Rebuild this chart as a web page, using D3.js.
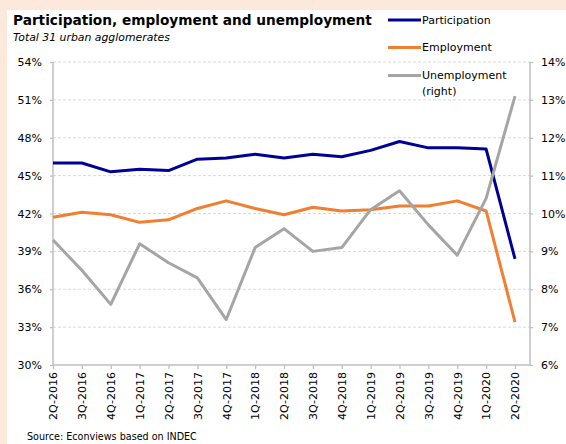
<!DOCTYPE html>
<html>
<head>
<meta charset="utf-8">
<script src="https://cdn.jsdelivr.net/npm/d3@7"></script>
<style>
  html, body { margin: 0; padding: 0; background: #fde9db; }
  svg { display: block; }
  text { font-family: "DejaVu Sans", Verdana, sans-serif; fill: #000; }
</style>
</head>
<body>
<svg id="chart" width="566" height="444"></svg>
<script>
// Quarters (Total 31 urban agglomerates)
const quarters = ["2Q-2016","3Q-2016","4Q-2016","1Q-2017","2Q-2017","3Q-2017","4Q-2017",
  "1Q-2018","2Q-2018","3Q-2018","4Q-2018","1Q-2019","2Q-2019","3Q-2019","4Q-2019",
  "1Q-2020","2Q-2020"];
// Rates in percent
const participation = [46.0,46.0,45.3,45.5,45.4,46.3,46.4,46.7,46.4,46.7,46.5,47.0,47.7,47.2,47.2,47.1,38.4];
const employment    = [41.7,42.1,41.9,41.3,41.5,42.4,43.0,42.4,41.9,42.5,42.2,42.3,42.6,42.6,43.0,42.2,33.4];
const unemployment  = [9.3,8.5,7.6,9.2,8.7,8.3,7.2,9.1,9.6,9.0,9.1,10.1,10.6,9.7,8.9,10.4,13.1];
// Axis ticks
const leftTicks  = [30,33,36,39,42,45,48,51,54];
const rightTicks = [6,7,8,9,10,11,12,13,14];

const svg = d3.select("#chart");

// White panel over the peach frame
svg.append("rect").attr("x", 7).attr("y", 10).attr("width", 559).attr("height", 434).attr("fill", "#fff");

const plotL = 53, plotR = 530, plotT = 62, plotB = 365;

const x = d3.scalePoint().domain(quarters).range([plotL, 515]);
const yL = d3.scaleLinear().domain([30, 54]).range([plotB, plotT]);
const yR = d3.scaleLinear().domain([6, 14]).range([plotB, plotT]);

// Dashed gridlines
svg.append("g").selectAll("line").data(leftTicks.filter(d => d > 30)).join("line")
  .attr("x1", plotL).attr("x2", plotR)
  .attr("y1", d => yL(d)).attr("y2", d => yL(d))
  .attr("stroke", "#d9d9d9").attr("stroke-width", 1).attr("stroke-dasharray", "3,2");

const axisColor = "#bfbfbf";
function styleAxis(g) {
  g.selectAll(".domain").remove();
  g.selectAll(".tick line").attr("stroke", axisColor).attr("stroke-width", 1.3);
  g.selectAll(".tick text").attr("font-size", "11px").attr("fill", "#000");
}

// Left axis
const gL = svg.append("g").attr("transform", `translate(${plotL},0)`)
  .call(d3.axisLeft(yL).tickValues(leftTicks).tickFormat(d => d + "%").tickSize(3).tickPadding(8));
styleAxis(gL);

// Right axis
const gR = svg.append("g").attr("transform", `translate(${plotR},0)`)
  .call(d3.axisRight(yR).tickValues(rightTicks).tickFormat(d => d + "%").tickSize(3).tickPadding(8));
styleAxis(gR);

// Bottom axis with vertical labels
const gB = svg.append("g").attr("transform", `translate(0,${plotB})`)
  .call(d3.axisBottom(x).tickSize(4).tickPadding(6));
styleAxis(gB);
gB.selectAll(".tick text")
  .attr("transform", "rotate(-90)")
  .attr("text-anchor", "end")
  .attr("x", -7).attr("y", 0).attr("dy", "0.35em");

// Axis lines
svg.append("line").attr("x1", plotL).attr("x2", plotL).attr("y1", plotT).attr("y2", plotB)
  .attr("stroke", axisColor).attr("stroke-width", 1.5);
svg.append("line").attr("x1", plotR).attr("x2", plotR).attr("y1", plotT).attr("y2", plotB)
  .attr("stroke", axisColor).attr("stroke-width", 1.5);
svg.append("line").attr("x1", plotL).attr("x2", plotR).attr("y1", plotB).attr("y2", plotB)
  .attr("stroke", axisColor).attr("stroke-width", 1.5);

// Series lines
const series = [
  { name: "Participation", values: participation, scale: yL, color: "#000096" },
  { name: "Employment", values: employment, scale: yL, color: "#f07f32" },
  { name: "Unemployment", values: unemployment, scale: yR, color: "#a5a5a5" }
];
series.forEach(s => {
  const line = d3.line().x((d, i) => x(quarters[i])).y(d => s.scale(d));
  svg.append("path").datum(s.values).attr("d", line)
    .attr("fill", "none").attr("stroke", s.color).attr("stroke-width", 3)
    .attr("stroke-linejoin", "round");
});

// Legend
const legendRows = [
  { lines: ["Participation"], y: 20, color: "#000096" },
  { lines: ["Employment"], y: 47.5, color: "#f07f32" },
  { lines: ["Unemployment", "(right)"], y: 75.5, color: "#a5a5a5" }
];
legendRows.forEach(r => {
  svg.append("line").attr("x1", 388).attr("x2", 421).attr("y1", r.y).attr("y2", r.y)
    .attr("stroke", r.color).attr("stroke-width", 3);
  r.lines.forEach((t, k) => {
    svg.append("text").attr("x", 422).attr("y", r.y + k * 15.5).attr("dy", "0.35em")
      .attr("font-size", "11px").text(t);
  });
});

// Fit a text element to a given width by adjusting its font size
function fitWidth(sel, width) {
  const fs = parseFloat(sel.attr("font-size"));
  const w = sel.node().getComputedTextLength();
  sel.attr("font-size", (fs * width / w).toFixed(2) + "px");
}

// Titles
const title = svg.append("text").attr("x", 13).attr("y", 25)
  .attr("font-size", "15px").attr("font-weight", "bold")
  .text("Participation, employment and unemployment");
fitWidth(title, 359);

const subtitle = svg.append("text").attr("x", 13).attr("y", 41)
  .attr("font-size", "11px").attr("font-style", "italic")
  .text("Total 31 urban agglomerates");
fitWidth(subtitle, 157);

const source = svg.append("text").attr("x", 27).attr("y", 440)
  .attr("font-size", "10px")
  .text("Source: Econviews based on INDEC");
fitWidth(source, 170);
</script>
</body>
</html>
